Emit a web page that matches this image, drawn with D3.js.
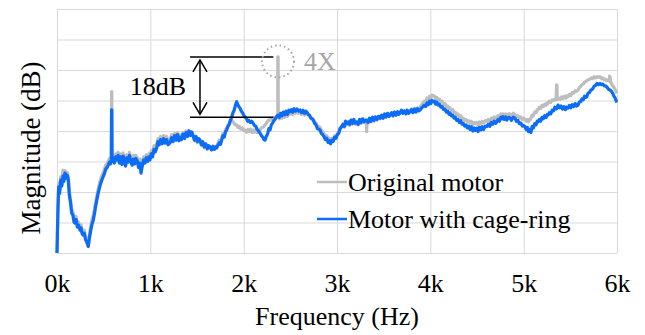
<!DOCTYPE html>
<html><head><meta charset="utf-8">
<script src="https://cdn.jsdelivr.net/npm/d3@7"></script>
<style>
html,body{margin:0;padding:0;background:#fff;}
text{font-family:"Liberation Serif","Times New Roman",serif;}
</style></head>
<body><svg id="chart" width="645" height="335"></svg>
<script>
// ---- data ----
const seriesNames = ["Original motor", "Motor with cage-ring"];
const freqTicks = [0, 1000, 2000, 3000, 4000, 5000, 6000];
const tickLabels = ["0k", "1k", "2k", "3k", "4k", "5k", "6k"];
const magTicks = [0, 10, 20, 30, 40, 50, 60, 70, 80];

// Original motor: [frequency Hz, magnitude dB]
const originalMotor = [[0,0],[10,15],[18,23],[28,21],[40,25],[52,23.5],[64,27.2],[74,25],[86,27],[98,25.5],[110,26.5],[121,25],[132,20.5],[145,17.5],[157,14.5],[170,13.5],[182,11.5],[193,10.8],[205,12],[218,9.5],[230,10.2],[246,8.5],[258,9.2],[268,7.5],[279,7],[292,7.5],[305,5.5],[320,4.5],[335,3],[348,6],[362,9],[376,11],[389,12.5],[402,14.5],[415,17],[428,19],[442,21],[456,23],[470,24.5],[482,25.5],[493,26.2],[508,27.5],[522,28.8],[536,29.2],[550,30.2],[562,31],[574,30.5],[582,31.5],[585,52.9],[587,52.9],[590,31.2],[600,32.2],[615,30.8],[628,32.5],[640,31.8],[655,33],[668,30.5],[680,32.5],[695,30.2],[708,32.8],[722,31.5],[735,29.8],[748,32.2],[762,31],[776,33],[790,31.2],[805,30],[818,32],[832,30.5],[846,32],[860,31.2],[874,29.5],[888,30.8],[900,28],[914,29.8],[928,31.5],[942,30.8],[956,32.2],[970,31.2],[984,32.5],[996,31.8],[1010,33.5],[1024,32.8],[1040,35.2],[1054,34.5],[1068,35.8],[1082,37.5],[1096,36.5],[1110,38.2],[1126,37],[1142,38.5],[1158,37.2],[1174,38.2],[1190,36.8],[1211,37.2],[1228,38.8],[1244,37.5],[1260,39.2],[1276,38],[1292,39.5],[1306,37.8],[1318,38.8],[1334,38],[1350,39.5],[1366,38.2],[1382,40],[1398,38.8],[1414,40.2],[1430,39],[1443,39.5],[1458,38.2],[1474,36.8],[1490,37.8],[1505,36.2],[1520,37],[1532,36.5],[1548,35.2],[1562,36],[1578,34.5],[1594,35.5],[1610,34],[1626,35],[1639,34.6],[1655,33.8],[1670,34.8],[1686,34],[1700,35],[1711,35],[1726,36],[1740,37],[1752,36.5],[1765,37.8],[1778,39.2],[1792,38.8],[1806,40.5],[1818,41],[1832,42],[1845,42.2],[1858,43.2],[1872,43.6],[1885,43],[1898,42.5],[1912,42],[1925,42],[1940,41.2],[1955,41.5],[1970,40.6],[1985,41],[2000,40.2],[2014,40.3],[2030,39.6],[2045,40.5],[2060,39.8],[2075,40.6],[2090,39.5],[2100,40.3],[2115,39.6],[2130,40.5],[2145,39.5],[2160,40.4],[2175,40.3],[2190,41],[2205,41.2],[2218,41.5],[2229,42],[2242,42.5],[2256,43.2],[2270,43.6],[2282,43.6],[2296,44],[2310,44.2],[2325,44.5],[2340,44.2],[2354,44.6],[2365,44.8],[2366,64.3],[2369,64.3],[2371,44.5],[2382,44],[2396,45],[2410,44.2],[2425,45.5],[2440,44.5],[2455,45.8],[2470,44.8],[2483,46],[2496,45.5],[2510,46.2],[2525,45.4],[2540,46.5],[2556,45.8],[2572,46.5],[2588,45.8],[2604,46.2],[2620,45.4],[2636,46.2],[2652,45.2],[2665,46],[2675,45.8],[2690,45.2],[2705,45],[2720,44.2],[2733,44.2],[2746,43.8],[2760,43],[2775,42.6],[2790,41.6],[2804,41.5],[2818,41.2],[2832,40.2],[2846,39.8],[2860,39.2],[2875,38.2],[2890,38.5],[2905,37.2],[2918,37.6],[2932,36.8],[2946,37.6],[2960,37.2],[2975,38.4],[2990,38],[3004,39.2],[3018,39.6],[3034,41],[3050,41.6],[3064,42],[3078,41.2],[3092,42.8],[3106,42],[3121,42.6],[3135,41.8],[3150,43.2],[3165,42.2],[3180,43.4],[3195,42.2],[3211,42.6],[3226,42],[3242,43.4],[3258,42.5],[3274,43.6],[3290,42.8],[3304,43.2],[3314,43],[3318,39.8],[3322,43],[3332,42.5],[3348,43.8],[3364,43],[3380,44.2],[3396,43.2],[3412,44.4],[3428,43.6],[3445,44.6],[3461,44],[3478,45],[3494,44.2],[3510,45.4],[3526,44.6],[3542,45.6],[3558,44.8],[3568,45],[3585,45.8],[3600,45],[3616,46],[3632,45.2],[3648,46.2],[3662,45.6],[3675,46],[3690,46.6],[3706,46],[3722,46.6],[3738,45.8],[3752,46.8],[3768,46],[3782,46.6],[3798,47.2],[3814,46.4],[3830,47.4],[3846,46.8],[3862,47.6],[3876,47.2],[3889,47.8],[3905,48.6],[3921,49.2],[3936,49.8],[3950,49.6],[3964,50.8],[3978,50.2],[3992,51.4],[4006,50.8],[4018,51.8],[4028,51.6],[4042,51.5],[4056,50.6],[4070,51],[4084,50.2],[4098,50.4],[4112,49.6],[4128,49.8],[4142,48.8],[4158,49],[4172,48],[4186,48.2],[4200,47.4],[4211,47.6],[4226,46.8],[4240,47],[4254,46],[4268,46.2],[4282,45.2],[4296,45.6],[4310,44.6],[4325,45],[4340,44],[4354,44.2],[4368,43.4],[4382,43.8],[4396,43],[4410,43.4],[4425,42.6],[4440,43.2],[4455,42.2],[4470,42.8],[4485,42.4],[4497,42.8],[4512,42],[4526,43],[4540,42.4],[4556,43.2],[4570,42.6],[4588,43.4],[4604,43.2],[4620,43.8],[4636,43.2],[4652,44.2],[4668,43.8],[4684,44.6],[4700,44],[4711,44.4],[4725,45],[4740,44.6],[4755,45.6],[4770,45.2],[4778,45.6],[4792,44.8],[4806,45.6],[4820,44.8],[4838,45.6],[4854,45.6],[4870,45],[4888,45.8],[4907,45.4],[4922,44.6],[4938,45],[4954,44.2],[4970,44.6],[4986,43.8],[5000,44.2],[5014,43.8],[5028,43.2],[5040,43.8],[5052,43],[5060,43.8],[5068,43.6],[5078,44.2],[5090,45.2],[5104,45],[5118,46.2],[5132,46],[5145,47],[5154,47],[5168,47.8],[5182,47.4],[5196,48.4],[5210,48],[5225,48.8],[5240,48.4],[5252,49.2],[5261,49],[5275,49.8],[5290,49.4],[5305,50.2],[5320,50],[5334,50.4],[5348,50.2],[5352,55.1],[5356,55.1],[5360,50.4],[5375,50.8],[5390,50.4],[5405,51.2],[5420,50.6],[5436,51.4],[5452,50.8],[5466,51.6],[5475,51.2],[5490,52],[5505,51.6],[5520,52.6],[5536,52.4],[5552,53.2],[5566,53],[5582,53.4],[5596,54.2],[5610,54.6],[5624,55.2],[5638,55.4],[5652,56],[5665,56.2],[5680,56.6],[5695,56.8],[5710,57],[5725,57.4],[5740,57.2],[5755,57.8],[5770,57.4],[5786,57.8],[5800,57.6],[5818,57.8],[5834,57.2],[5848,57.4],[5862,56.8],[5876,57],[5889,56.5],[5904,56.7],[5915,56.4],[5920,58],[5926,57.8],[5930,56.2],[5943,55.4],[5956,54.8],[5968,54.2],[5980,53.6],[5990,53],[6000,52.4]];

// Motor with cage-ring: [frequency Hz, magnitude dB]
const cageRingMotor = [[0,0],[10,14],[18,21.7],[28,19.5],[40,23.9],[52,22],[64,25.2],[74,23.5],[86,26.2],[98,24.5],[110,25.5],[121,23.9],[132,19],[145,16.5],[157,13.1],[170,12.5],[182,10.2],[193,9.8],[205,11],[218,8.5],[230,9.2],[246,7.5],[258,8.2],[268,6.4],[279,5.9],[292,6.5],[305,4.5],[320,3.5],[335,2.1],[348,5],[362,7.5],[376,9.5],[389,10.8],[402,13],[415,15.5],[428,17.5],[442,19.7],[456,21.5],[470,23],[482,24],[493,24.9],[508,26],[522,27.5],[536,28],[550,28.9],[562,29.8],[574,29.2],[582,30.5],[585,46.9],[587,46.9],[590,30],[600,31.2],[615,29.5],[628,31.5],[640,30.5],[655,32],[668,29.5],[680,31.5],[695,29],[708,31.8],[722,30.2],[735,28.5],[748,31.2],[762,29.8],[776,32],[790,30],[805,28.8],[818,30.8],[832,29.2],[846,31],[860,30.2],[874,28],[888,29.5],[900,26.2],[914,28.5],[928,30.5],[942,29.5],[956,31.2],[970,30],[984,31.5],[996,30.5],[1010,32.5],[1024,31.5],[1040,34],[1054,33.2],[1068,34.4],[1082,36.5],[1096,35.5],[1110,37.2],[1126,35.8],[1142,37.5],[1158,36],[1174,37.2],[1190,35.5],[1211,36.1],[1228,37.8],[1244,36.5],[1260,38.5],[1276,37],[1292,38.8],[1306,36.8],[1318,38],[1334,37.2],[1350,39],[1366,37.5],[1382,39.5],[1398,38.2],[1414,40],[1430,38.5],[1443,39.7],[1458,38.5],[1474,37],[1490,38.2],[1505,36.5],[1520,37.5],[1532,37],[1548,35.5],[1562,36.5],[1578,34.8],[1594,35.8],[1610,34.2],[1626,35.2],[1639,34.8],[1655,33.8],[1670,35],[1686,34],[1700,34.8],[1711,34.4],[1726,35.5],[1740,36.2],[1752,35.6],[1765,37],[1778,38.5],[1792,38],[1806,39.8],[1818,40.3],[1832,41.5],[1845,42.2],[1858,43.5],[1872,44.6],[1885,46],[1898,46.8],[1912,48.5],[1925,49.6],[1935,48.8],[1948,48],[1961,47.5],[1975,46.5],[1988,46],[2000,45.2],[2014,44.6],[2028,44.2],[2042,43.2],[2056,43.5],[2070,42.8],[2085,43.2],[2100,42.6],[2115,41.8],[2130,41.5],[2145,40.5],[2160,40],[2175,39.3],[2190,38.5],[2205,38],[2218,37.2],[2229,37],[2242,38.2],[2256,39],[2270,40.8],[2282,40.3],[2296,42],[2310,42.6],[2325,43.5],[2340,44],[2354,44.8],[2368,45.2],[2382,44.5],[2396,45.8],[2410,45],[2425,46.2],[2440,45.3],[2455,46.5],[2470,45.5],[2483,46.8],[2496,46.3],[2510,47],[2525,46.2],[2540,47.3],[2556,46.5],[2572,47.2],[2588,46.5],[2604,46.9],[2620,46],[2636,46.8],[2652,45.8],[2665,46.5],[2675,46.3],[2690,45.5],[2705,45.2],[2720,44.2],[2733,44],[2746,43.6],[2760,42.5],[2775,42],[2790,40.8],[2804,40.6],[2818,40.3],[2832,39.2],[2846,38.8],[2860,38.2],[2875,37.2],[2890,37.6],[2905,36.2],[2918,36.8],[2932,35.8],[2946,37],[2960,36.6],[2975,38],[2990,37.6],[3004,38.8],[3018,39.2],[3034,40.8],[3050,41.4],[3064,42.2],[3078,41.5],[3092,43.2],[3106,42.4],[3121,43],[3135,42.2],[3150,43.6],[3165,42.5],[3180,43.8],[3195,42.6],[3211,43],[3226,42.2],[3242,43.8],[3258,42.8],[3274,44],[3290,43],[3304,43.6],[3318,43.6],[3332,42.8],[3348,44.2],[3364,43.2],[3380,44.5],[3396,43.5],[3412,44.6],[3428,43.8],[3445,44.8],[3461,44.2],[3478,45.2],[3494,44.2],[3510,45.6],[3526,44.6],[3542,45.8],[3558,44.8],[3568,45.2],[3585,46],[3600,45],[3616,46.2],[3632,45.2],[3648,46.3],[3662,45.5],[3675,45.9],[3690,46.8],[3706,45.8],[3722,46.6],[3738,45.6],[3752,46.8],[3768,45.8],[3782,46.3],[3798,47],[3814,46],[3830,47.2],[3846,46.2],[3862,47.3],[3876,46.6],[3889,46.9],[3905,47.5],[3921,48],[3936,48.5],[3950,48],[3964,49.2],[3978,48.6],[3992,49.8],[4006,49],[4018,50],[4028,49.6],[4042,49.8],[4056,48.8],[4070,49.5],[4084,48.5],[4098,48.8],[4112,47.8],[4128,48],[4142,47],[4158,47.2],[4172,46.2],[4186,46.5],[4200,45.5],[4211,45.9],[4226,45],[4240,45.2],[4254,44.2],[4268,44.5],[4282,43.5],[4296,43.8],[4310,42.8],[4325,43.4],[4340,42.2],[4354,42.5],[4368,41.6],[4382,42],[4396,41],[4410,41.6],[4425,40.5],[4440,41.4],[4455,40],[4470,41],[4485,40.2],[4497,40.9],[4512,39.8],[4526,41.2],[4540,40.4],[4556,41.4],[4570,40.5],[4588,41.6],[4604,41.4],[4620,42.2],[4636,41.5],[4652,42.8],[4668,42.2],[4684,43.2],[4700,42.5],[4711,43],[4725,43.8],[4740,43.2],[4755,44.5],[4770,44],[4778,44.7],[4792,43.8],[4806,44.6],[4820,43.6],[4838,44.5],[4854,44.3],[4870,43.5],[4888,44.5],[4907,44.2],[4922,43.2],[4938,43.5],[4954,42.4],[4970,42.6],[4986,41.6],[5000,41.8],[5014,41.4],[5028,40.5],[5040,41.2],[5052,39.8],[5060,40.6],[5068,40.3],[5078,39.5],[5090,41.5],[5104,41],[5118,42.4],[5132,42],[5145,43.2],[5154,43],[5168,43.8],[5182,43.2],[5196,44.5],[5210,44],[5225,45],[5240,44.4],[5252,45.4],[5261,45.2],[5275,46],[5290,45.6],[5305,46.8],[5320,46.6],[5334,47.8],[5350,47.2],[5368,48.5],[5384,47.6],[5400,48.2],[5416,47.2],[5432,48],[5446,47],[5460,47.8],[5475,47.5],[5490,48.4],[5505,47.6],[5520,48.6],[5536,48],[5552,49],[5566,48.2],[5582,48.5],[5596,49.5],[5610,49.6],[5624,50.5],[5638,50.2],[5652,51.4],[5665,51],[5675,51.2],[5690,52.4],[5705,52.6],[5718,53.4],[5730,53.5],[5743,54],[5758,54.8],[5772,55],[5786,55.6],[5800,55.2],[5818,55.6],[5834,55.2],[5848,55.4],[5862,54.8],[5876,54.8],[5889,54.5],[5902,54],[5915,53.6],[5928,53.4],[5943,52.9],[5956,52.2],[5968,51.4],[5980,50.8],[5990,50],[5996,49.6],[6000,49.4]];

// annotation values (Hz, dB)
const annoLabel = "18dB";
const annoTopDb = 64.3, annoBottomDb = 44.5;
const annoFromHz = 1425, annoToHz = 2318, annoArrowHz = 1532;
const harmonicLabel = "4X";
const harmonicHz = 2368, harmonicDb = 62.8;

// ---- layout ----
const svg = d3.select("#chart");
const m = {left: 57, top: 9, right: 28, bottom: 82};
const W = 645 - m.left - m.right, H = 335 - m.top - m.bottom;
const x = d3.scaleLinear().domain([0, 6000]).range([0, W]);
const y = d3.scaleLinear().domain([0, 80]).range([H, 0]);
const g = svg.append("g").attr("transform", `translate(${m.left},${m.top})`);

const gridColor = "#d9d9d9";
// gridlines
const gx = g.append("g").attr("transform", `translate(0,${H})`)
  .call(d3.axisBottom(x).tickValues(freqTicks).tickSize(-H).tickFormat((d,i)=>tickLabels[i]));
gx.select(".domain").remove();
gx.selectAll(".tick line").attr("stroke", gridColor).attr("stroke-width", 1);
gx.selectAll(".tick text").attr("y", 39).attr("dy", 0)
  .style("font-family", '"Liberation Serif", serif').style("font-size", "26px").attr("fill", "#000");

const gy = g.append("g").call(d3.axisLeft(y).tickValues(magTicks).tickSize(-W).tickFormat(""));
gy.select(".domain").remove();
gy.selectAll(".tick line").attr("stroke", gridColor).attr("stroke-width", 1);

// lines
const line = d3.line().x(d => x(d[0])).y(d => y(d[1]));
g.append("path").datum(originalMotor).attr("d", line)
  .attr("fill", "none").attr("stroke", "#bdbdbd").attr("stroke-width", 3.2).attr("stroke-linejoin", "round");
g.append("path").datum(cageRingMotor).attr("d", line)
  .attr("fill", "none").attr("stroke", "#0a6cf7").attr("stroke-width", 3.2).attr("stroke-linejoin", "round");

// annotation
const ann = g.append("g").attr("stroke", "#000").attr("stroke-width", 1.5).attr("fill", "none");
ann.append("line").attr("x1", x(annoFromHz)).attr("x2", x(annoToHz)).attr("y1", y(annoTopDb)).attr("y2", y(annoTopDb));
ann.append("line").attr("x1", x(annoFromHz)).attr("x2", x(annoToHz)).attr("y1", y(annoBottomDb)).attr("y2", y(annoBottomDb));
const ax = x(annoArrowHz), ayT = y(annoTopDb) + 3, ayB = y(annoBottomDb) - 3;
ann.append("line").attr("x1", ax).attr("x2", ax).attr("y1", ayT).attr("y2", ayB);
ann.append("path").attr("d", `M${ax-7},${ayT+12}L${ax},${ayT}L${ax+7},${ayT+12}`);
ann.append("path").attr("d", `M${ax-7},${ayB-12}L${ax},${ayB}L${ax+7},${ayB-12}`);
g.append("text").attr("x", ax - 14).attr("y", 86).attr("text-anchor", "end")
  .style("font-size", "26px").attr("fill", "#000").text(annoLabel);

g.append("circle").attr("cx", x(harmonicHz)).attr("cy", y(harmonicDb)).attr("r", 16)
  .attr("fill", "none").attr("stroke", "#a6a6a6").attr("stroke-width", 2).attr("stroke-dasharray", "1.5,3");
g.append("text").attr("x", x(harmonicHz) + 26).attr("y", 61)
  .style("font-size", "26px").attr("fill", "#a6a6a6").text(harmonicLabel);

// legend
const legColors = ["#bdbdbd", "#0a6cf7"];
const leg = g.append("g");
seriesNames.forEach((name, i) => {
  const ly = 173 + i * 37;
  leg.append("line").attr("x1", 260).attr("x2", 290).attr("y1", ly).attr("y2", ly)
    .attr("stroke", legColors[i]).attr("stroke-width", 2.5);
  leg.append("text").attr("x", 291).attr("y", ly + 9).style("font-size", "26px").attr("fill", "#000").text(name);
});

// axis titles
svg.append("text").attr("x", m.left + W / 2).attr("y", 325).attr("text-anchor", "middle")
  .style("font-size", "26px").attr("fill", "#000").text("Frequency (Hz)");
svg.append("text").attr("transform", "translate(40,148) rotate(-90)").attr("text-anchor", "middle")
  .style("font-size", "27px").attr("fill", "#000").text("Magnitude (dB)");
</script></body></html>
